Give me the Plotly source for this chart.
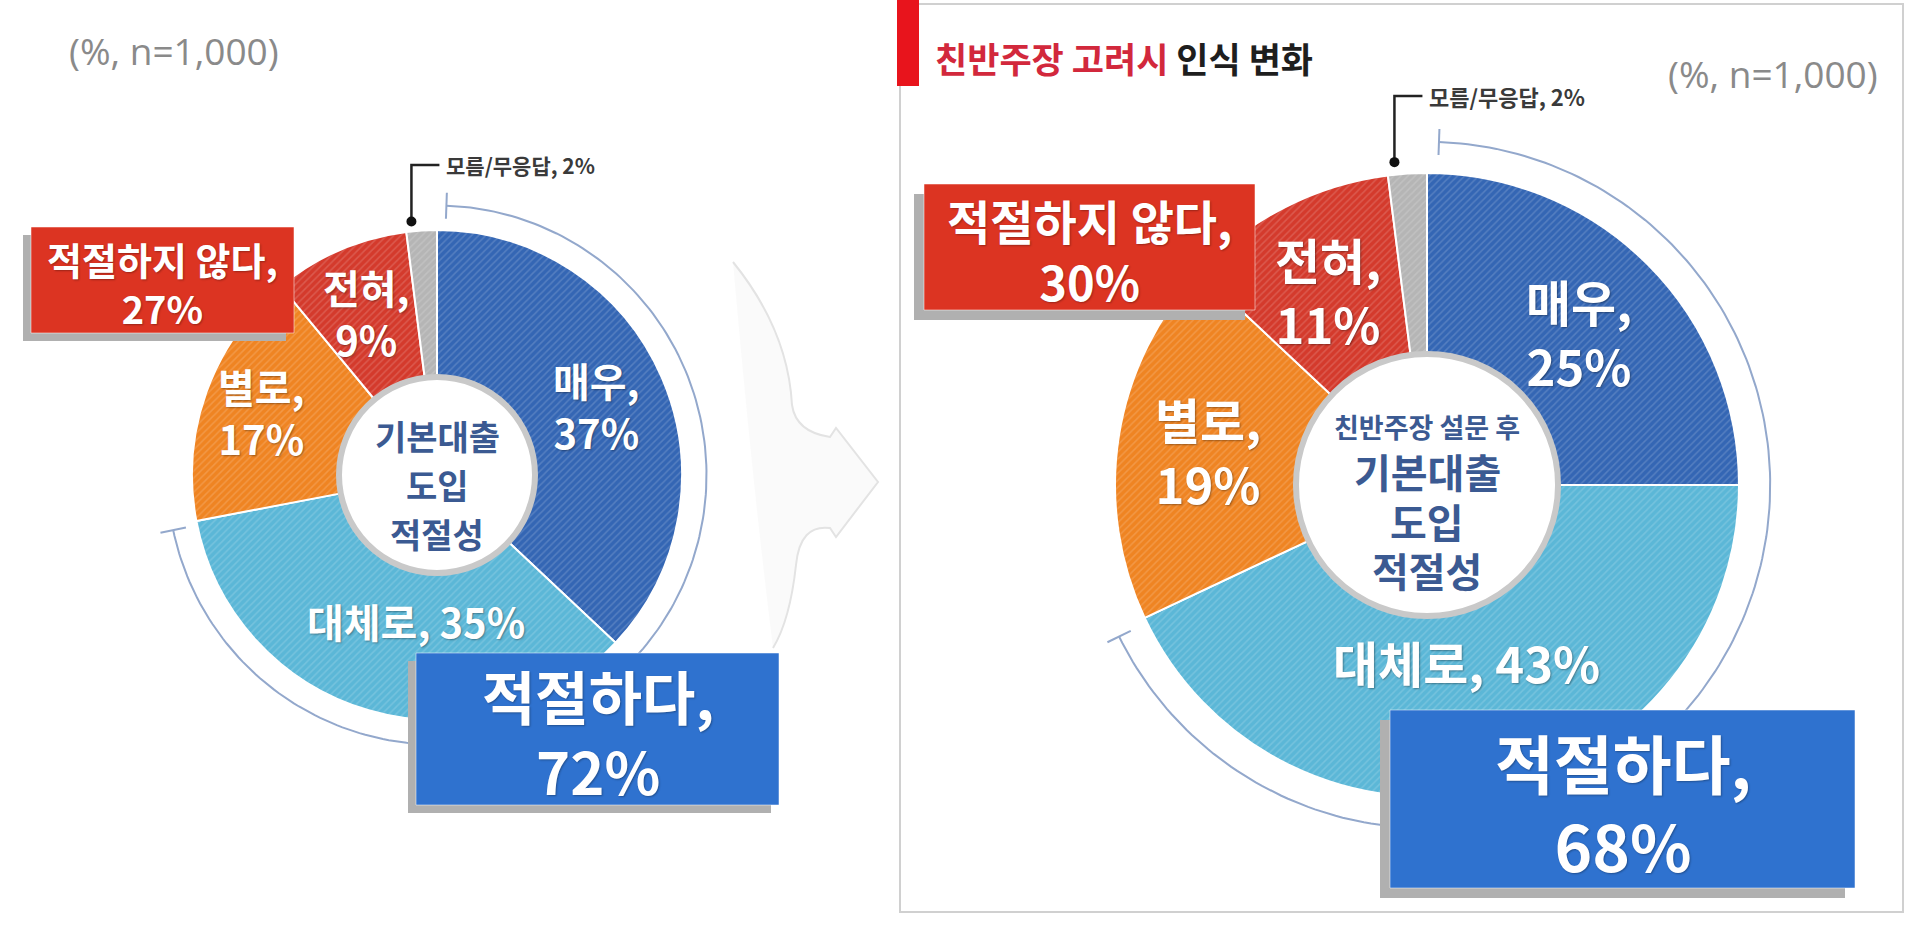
import math
import plotly.graph_objects as go

# survey answers, clockwise from 12 o'clock
categories = ["매우", "대체로", "별로", "전혀", "모름/무응답"]
before_values = [37, 35, 17, 9, 2]
after_values = [25, 43, 19, 11, 2]
appropriate_totals = [72, 68]
not_appropriate_totals = [27, 30]
sample_note = "(%, n=1,000)"
panel_title_red = "친반주장 고려시"
panel_title_black = "인식 변화"
center_lines_before = ["기본대출", "도입", "적절성"]
center_lines_after = ["친반주장 설문 후", "기본대출", "도입", "적절성"]

slice_colors = ["#3466b4", "#5bb7d7", "#ef8422", "#d43a2c", "#b5b5b5"]
box_red = "#dc3422"
box_blue = "#2f72cf"
center_blue = "#3b5a92"
KR = "Noto Sans CJK KR"

W, H = 1920, 949

panels = [
    dict(values=before_values, cx=437, cy=475, r=245, hole=0.40,
         label_font=40, label_r=[0.71, 0.60, 0.76, 0.72], label_da=[0, -8, 0, 0],
         center_lines=center_lines_before, center_dy=[-40, 9, 58],
         center_font=[34, 34, 34],
         red_box=(31, 227, 294, 333), red_font=38,
         blue_box=(416, 653, 779, 805), blue_font=58,
         note_xy=(67, 50), note_anchor="left",
         gray_label_dy=-310, gray_font=21),
    dict(values=after_values, cx=1427, cy=485, r=312, hole=0.42,
         label_font=49, label_r=[0.69, 0.58, 0.71, 0.70], label_da=[0, 0, 0, 0],
         center_lines=center_lines_after, center_dy=[-59, -14, 36, 85],
         center_font=[27, 40, 40, 40],
         red_box=(924, 184, 1255, 310), red_font=47,
         blue_box=(1390, 710, 1855, 888), blue_font=64,
         note_xy=(1880, 73), note_anchor="right",
         gray_label_dy=-389, gray_font=22),
]


def polar(cx, cy, rad, ang):
    a = math.radians(ang)
    return cx + rad * math.sin(a), cy - rad * math.cos(a)


fig = go.Figure()
shapes = []
annotations = []

# right panel frame and red marker
shapes.append(dict(type="rect", x0=900, y0=4, x1=1903, y1=912,
                   line=dict(color="#d0d0d0", width=2), layer="below"))
shapes.append(dict(type="rect", x0=897, y0=0, x1=919, y1=86,
                   fillcolor="#e8141c", line=dict(width=0), layer="above"))
annotations.append(dict(
    x=933, y=57, xanchor="left", yanchor="middle", showarrow=False,
    text=f"<b><span style='color:#d2283c'>{panel_title_red}</span> {panel_title_black}</b>",
    font=dict(size=35, color="#1e1e1e", family=KR)))

# faint arrow between the two charts
arrow_path = ("M 733 262 Q 788 330 792 405 Q 796 432 830 437 L 836 428 L 878 482 "
              "L 836 537 L 830 528 Q 800 524 796 565 Q 790 620 773 648")
shapes.append(dict(type="path", path=arrow_path + " Q 752 480 733 262 Z",
                   fillcolor="rgba(240,240,240,0.35)", line=dict(width=0), layer="below"))
shapes.append(dict(type="path", path=arrow_path,
                   line=dict(color="#e3e3e3", width=2), layer="below"))

for i, p in enumerate(panels):
    cx, cy, r = p["cx"], p["cy"], p["r"]
    vals = p["values"]
    total = sum(vals)

    fig.add_trace(go.Pie(
        values=vals, labels=categories, sort=False, direction="clockwise",
        rotation=0, hole=p["hole"], textinfo="none", hoverinfo="label+value",
        domain=dict(x=[(cx - r) / W, (cx + r) / W],
                    y=[(H - cy - r) / H, (H - cy + r) / H]),
        marker=dict(colors=slice_colors, line=dict(color="white", width=2),
                    pattern=dict(shape="/", fgcolor="white", fgopacity=0.16,
                                 size=5, solidity=0.3, fillmode="overlay")),
    ))

    # slice labels at mid angles
    start = 0
    for k in range(4):
        mid = (start + vals[k] / 2) / total * 360 + p["label_da"][k]
        start += vals[k]
        lx, ly = polar(cx, cy, r * p["label_r"][k], mid)
        sep = ", " if k == 1 else ",<br>"
        annotations.append(dict(
            x=lx, y=ly, showarrow=False, text=f"<b>{categories[k]}{sep}{vals[k]}%</b>",
            font=dict(size=p["label_font"], color="white", family=KR,
                      shadow="1px 1px 2px rgba(0,0,0,0.35)")))

    # centre ring and caption
    rh = r * p["hole"]
    shapes.append(dict(type="circle", x0=cx - rh, y0=cy - rh, x1=cx + rh, y1=cy + rh,
                       fillcolor="white", line=dict(color="#c9c9c9", width=6),
                       layer="above"))
    for line_text, dy, fs in zip(p["center_lines"], p["center_dy"], p["center_font"]):
        annotations.append(dict(
            x=cx, y=cy + dy, showarrow=False, text=f"<b>{line_text}</b>",
            font=dict(size=fs, color=center_blue, family=KR)))

    # bracket around the "appropriate" share
    rb = r * 1.10
    a_end = (vals[0] + vals[1]) / total * 360 - 1
    n = 200
    angs = [2 + (a_end - 2) * j / n for j in range(n + 1)]
    pts = [polar(cx, cy, rb, a) for a in angs]
    fig.add_trace(go.Scatter(x=[q[0] for q in pts], y=[q[1] for q in pts], mode="lines",
                             line=dict(color="#93a8cc", width=2), hoverinfo="skip"))
    for a in (2, a_end):
        t0 = polar(cx, cy, rb - 13, a)
        t1 = polar(cx, cy, rb + 13, a)
        shapes.append(dict(type="line", x0=t0[0], y0=t0[1], x1=t1[0], y1=t1[1],
                           line=dict(color="#93a8cc", width=2), layer="below"))

    # leader for the small "don't know" slice
    gray_ang = -vals[4] / total * 360 * 0.8
    dx, dy = polar(cx, cy, r * 1.04, gray_ang)
    ly = cy + p["gray_label_dy"]
    shapes.append(dict(type="path", path=f"M {dx} {dy} L {dx} {ly} L {dx + 28} {ly}",
                       line=dict(color="#222", width=2.5), layer="above"))
    shapes.append(dict(type="circle", x0=dx - 5, y0=dy - 5, x1=dx + 5, y1=dy + 5,
                       fillcolor="#111", line=dict(width=0), layer="above"))
    annotations.append(dict(
        x=dx + 33, y=ly, xanchor="left", showarrow=False,
        text=f"<b>{categories[4]}, {vals[4]}%</b>",
        font=dict(size=p["gray_font"], color="#3a3a3a", family=KR)))

    # summary boxes with drop shadows
    for (x0, y0, x1, y1), color, label, value, fsize in (
            (p["red_box"], box_red, "적절하지 않다", not_appropriate_totals[i], p["red_font"]),
            (p["blue_box"], box_blue, "적절하다", appropriate_totals[i], p["blue_font"])):
        off = 10 if i else 8
        shapes.append(dict(type="rect", x0=x0 - off, y0=y0 + off, x1=x1 - off, y1=y1 + off,
                           fillcolor="#b0b0b0", line=dict(width=0), layer="above"))
        shapes.append(dict(type="rect", x0=x0, y0=y0, x1=x1, y1=y1,
                           fillcolor=color, line=dict(color="rgba(255,255,255,0.5)", width=1),
                           layer="above"))
        annotations.append(dict(
            x=(x0 + x1) / 2, y=(y0 + y1) / 2 + 3, showarrow=False,
            text=f"<b>{label},<br>{value}%</b>",
            font=dict(size=fsize, color="white", family=KR,
                      shadow="1px 1px 2px rgba(0,0,0,0.3)")))

    nx, ny = p["note_xy"]
    annotations.append(dict(
        x=nx, y=ny, xanchor=p["note_anchor"], showarrow=False, text=sample_note,
        font=dict(size=37, color="#8a8a8a", family="Open Sans")))

fig.update_layout(
    width=W, height=H,
    margin=dict(l=0, r=0, t=0, b=0),
    paper_bgcolor="white", plot_bgcolor="white",
    showlegend=False,
    xaxis=dict(range=[0, W], visible=False, fixedrange=True),
    yaxis=dict(range=[H, 0], visible=False, fixedrange=True),
    shapes=shapes,
    annotations=annotations,
)

fig.write_html("out.html", config={"displayModeBar": False},
               post_script="document.body.style.margin='0';document.body.style.overflow='hidden';")
